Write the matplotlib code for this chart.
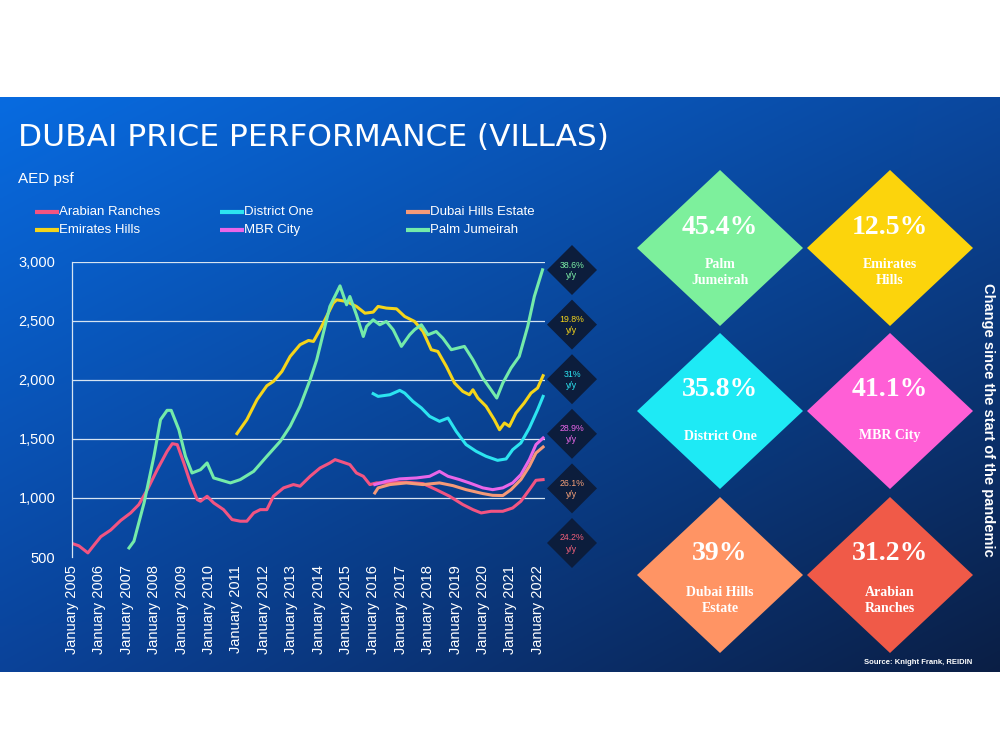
import numpy as np
import matplotlib.pyplot as plt
from matplotlib.patches import Polygon
from matplotlib.ticker import FuncFormatter

plt.rcParams['font.family'] = ['Liberation Sans', 'DejaVu Sans']

# ---- data (AED psf) ----
arabian_t = [2005.0, 2005.25, 2005.58, 2005.8, 2006.05, 2006.41, 2006.78, 2007.14, 2007.44, 2007.75,
             2008.11, 2008.47, 2008.66, 2008.84, 2009.08, 2009.32, 2009.57, 2009.69, 2009.93, 2010.17,
             2010.53, 2010.84, 2011.14, 2011.38, 2011.63, 2011.87, 2012.11, 2012.35, 2012.72, 2013.08,
             2013.32, 2013.69, 2014.05, 2014.41, 2014.6, 2014.9, 2015.14, 2015.38, 2015.63, 2015.87,
             2016.11, 2016.6, 2017.2, 2017.81, 2018.29, 2018.78, 2019.26, 2019.63, 2019.93, 2020.29,
             2020.72, 2021.08, 2021.38, 2021.69, 2021.93, 2022.19]
arabian_v = [615, 595, 535, 600, 672, 728, 810, 873, 944, 1070,
             1239, 1394, 1459, 1451, 1296, 1127, 986, 972, 1014, 958,
             901, 817, 803, 803, 873, 901, 901, 1014, 1085, 1113,
             1099, 1183, 1253, 1296, 1324, 1301, 1282, 1211, 1183, 1113,
             1127, 1127, 1133, 1121, 1070, 1014, 944, 901, 873, 887,
             887, 915, 972, 1070, 1149, 1155]

emirates_t = [2011.02, 2011.38, 2011.75, 2012.11, 2012.35, 2012.66, 2012.96, 2013.32, 2013.63, 2013.81,
              2014.05, 2014.29, 2014.53, 2014.66, 2015.02, 2015.38, 2015.69, 2015.99, 2016.17, 2016.47,
              2016.84, 2017.14, 2017.5, 2017.81, 2018.11, 2018.35, 2018.66, 2018.96, 2019.26, 2019.5,
              2019.63, 2019.81, 2020.11, 2020.41, 2020.6, 2020.78, 2020.96, 2021.2, 2021.5, 2021.75,
              2021.99, 2022.19]
emirates_v = [1544, 1662, 1831, 1949, 1986, 2070, 2197, 2296, 2332, 2324,
              2423, 2535, 2648, 2676, 2662, 2620, 2563, 2572, 2620, 2606,
              2600, 2535, 2493, 2408, 2254, 2239, 2113, 1972, 1901, 1873,
              1915, 1845, 1775, 1662, 1577, 1634, 1606, 1718, 1803, 1887,
              1930, 2034]

district_t = [2015.99, 2016.17, 2016.6, 2016.96, 2017.14, 2017.44, 2017.75, 2018.05, 2018.41, 2018.72,
              2019.02, 2019.38, 2019.75, 2020.11, 2020.53, 2020.84, 2021.08, 2021.38, 2021.69, 2021.99,
              2022.19]
district_v = [1882, 1859, 1873, 1910, 1887, 1817, 1761, 1690, 1648, 1676,
              1563, 1451, 1394, 1352, 1318, 1330, 1408, 1465, 1592, 1746,
              1859]

mbr_t = [2016.05, 2016.47, 2016.96, 2017.57, 2018.05, 2018.41, 2018.72, 2019.14, 2019.5, 2019.99,
         2020.35, 2020.72, 2021.08, 2021.38, 2021.69, 2021.93, 2022.19]
mbr_v = [1113, 1141, 1161, 1169, 1183, 1225, 1183, 1155, 1127, 1085,
         1070, 1085, 1127, 1197, 1324, 1451, 1507]

dubai_hills_t = [2016.05, 2016.17, 2016.6, 2017.2, 2017.81, 2018.41, 2018.9, 2019.38, 2019.99, 2020.35,
                 2020.72, 2021.02, 2021.38, 2021.69, 2021.93, 2022.19]
dubai_hills_v = [1042, 1085, 1113, 1127, 1113, 1127, 1104, 1070, 1037, 1022,
                 1020, 1070, 1155, 1268, 1380, 1431]

palm_t = [2007.08, 2007.26, 2007.63, 2007.99, 2008.23, 2008.47, 2008.62, 2008.9, 2009.14, 2009.38,
          2009.69, 2009.93, 2010.17, 2010.78, 2011.14, 2011.63, 2012.11, 2012.6, 2012.96, 2013.32,
          2013.69, 2013.93, 2014.11, 2014.41, 2014.78, 2015.02, 2015.14, 2015.38, 2015.63, 2015.75,
          2015.99, 2016.23, 2016.47, 2016.72, 2017.02, 2017.32, 2017.5, 2017.75, 2017.99, 2018.29,
          2018.53, 2018.84, 2019.08, 2019.32, 2019.63, 2019.99, 2020.29, 2020.5, 2020.72, 2021.02,
          2021.32, 2021.63, 2021.87, 2022.17]
palm_v = [577, 634, 958, 1352, 1662, 1741, 1741, 1577, 1352, 1211,
          1239, 1296, 1169, 1127, 1155, 1225, 1352, 1479, 1606, 1775,
          2000, 2169, 2338, 2620, 2794, 2634, 2704, 2549, 2366, 2451,
          2507, 2465, 2493, 2423, 2282, 2380, 2423, 2465, 2380, 2408,
          2352, 2254, 2268, 2282, 2169, 2014, 1915, 1845, 1972, 2099,
          2197, 2451, 2704, 2930]

years = list(range(2005, 2023))
y_ticks = [500, 1000, 1500, 2000, 2500, 3000]

yoy_labels = ['38.6%', '19.8%', '31%', '28.9%', '26.1%', '24.2%']
yoy_colors = ['#7CEFA6', '#F5D51A', '#2CE4F0', '#E966E8', '#F5A078', '#F2607A']

pandemic_names = ['Palm\nJumeirah', 'Emirates\nHills', 'District One', 'MBR City',
                  'Dubai Hills\nEstate', 'Arabian\nRanches']
pandemic_change = ['45.4%', '12.5%', '35.8%', '41.1%', '39%', '31.2%']
pandemic_colors = ['#7DF09C', '#FCD40C', '#1EEAF5', '#FF5FD6', '#FF9464', '#F05A48']

series = [
    ('Arabian Ranches', arabian_t, arabian_v, '#F25482'),
    ('Emirates Hills', emirates_t, emirates_v, '#F5D51A'),
    ('District One', district_t, district_v, '#2CE4F0'),
    ('MBR City', mbr_t, mbr_v, '#E966E8'),
    ('Dubai Hills Estate', dubai_hills_t, dubai_hills_v, '#F59A78'),
    ('Palm Jumeirah', palm_t, palm_v, '#74EBAA'),
]


def diamond(ax, cx, cy, hw, hh, color):
    pts = [(cx - hw, cy), (cx, cy - hh), (cx + hw, cy), (cx, cy + hh)]
    ax.add_patch(Polygon(pts, closed=True, fc=color, ec='none'))


fig = plt.figure(figsize=(10, 7.5), dpi=100)
fig.patch.set_facecolor('white')

# blue gradient panel
bg = fig.add_axes([0, 78 / 750, 1, 575 / 750], zorder=0)
u = np.linspace(0, 1, 256)
xx, yy = np.meshgrid(u, u)
xx, yy = xx[..., None], yy[..., None]
tl = np.array([0.03, 0.42, 0.88])
tr = np.array([0.04, 0.28, 0.62])
bl = np.array([0.04, 0.26, 0.60])
br = np.array([0.04, 0.12, 0.27])
img = tl * (1 - xx) * (1 - yy) + tr * xx * (1 - yy) + bl * (1 - xx) * yy + br * xx * yy
bg.imshow(img, aspect='auto', extent=[0, 1, 1, 0])
bg.axis('off')

# line chart
ax = fig.add_axes([0.072, 0.2573, 0.473, 0.394], zorder=1)
ax.patch.set_alpha(0)
for name, t, v, c in series:
    ax.plot(t, v, color=c, lw=2.2, solid_joinstyle='round')
ax.set_xlim(2005, 2022.26)
ax.set_ylim(500, 3000)
ax.set_yticks(y_ticks)
ax.yaxis.set_major_formatter(FuncFormatter(lambda v, p: f'{int(v):,}'))
ax.set_xticks(years)
ax.set_xticklabels([f'January {y}' for y in years], rotation=90)
ax.tick_params(axis='both', length=0, colors='white', labelsize=10.5)
ax.tick_params(axis='y', pad=12)
ax.tick_params(axis='x', pad=6)
for y in y_ticks[1:]:
    ax.axhline(y, color='#D6E4F2', lw=0.9, zorder=0)
for s in ['top', 'right', 'bottom']:
    ax.spines[s].set_visible(False)
ax.spines['left'].set_color('#D6E4F2')
ax.spines['left'].set_linewidth(0.9)

# overlay in pixel coordinates
ov = fig.add_axes([0, 0, 1, 1], zorder=3)
ov.set_xlim(0, 1000)
ov.set_ylim(750, 0)
ov.axis('off')

ov.text(18, 138, 'DUBAI PRICE PERFORMANCE (VILLAS)', family='DejaVu Sans', fontsize=22.5,
        color='white', va='center')
ov.text(18, 179, 'AED psf', fontsize=11, color='white', va='center')

# legend
leg_pos = [(35, 212), (35, 230), (220, 212), (220, 230), (406, 212), (406, 230)]
for (name, t, v, c), (lx, ly) in zip(series, leg_pos):
    ov.plot([lx, lx + 24], [ly, ly], color=c, lw=3, solid_capstyle='butt')
    ov.text(lx + 24, ly, name, color='white', fontsize=9.5, va='center', ha='left')

# y/y diamonds
for i, (lab, c) in enumerate(zip(yoy_labels, yoy_colors)):
    cy = 270 + i * 54.6
    diamond(ov, 572, cy, 25, 25, '#0C1D3C')
    ov.text(572, cy - 5, lab, color=c, fontsize=6.3, ha='center', va='center')
    ov.text(572, cy + 6, 'y/y', color=c, fontsize=6.3, ha='center', va='center')

# change since pandemic diamonds
centers = [(720, 248), (890, 248), (720, 411), (890, 411), (720, 575), (890, 575)]
for (cx, cy), name, pct, c in zip(centers, pandemic_names, pandemic_change, pandemic_colors):
    diamond(ov, cx, cy, 83, 78, c)
    ov.text(cx, cy - 21, pct, family='Liberation Serif', fontweight='bold', fontsize=20,
            color='white', ha='center', va='center')
    ov.text(cx, cy + 25, name, family='Liberation Serif', fontweight='bold', fontsize=10,
            color='white', ha='center', va='center', linespacing=1.3)

ov.text(988, 420, 'Change since the start of the pandemic', rotation=-90, fontsize=10.5,
        fontweight='bold', color='white', ha='center', va='center')
ov.text(972, 662, 'Source: Knight Frank, REIDIN', fontsize=5.5, fontweight='bold',
        color='white', ha='right', va='center')

fig.savefig('out.png', dpi=100)
